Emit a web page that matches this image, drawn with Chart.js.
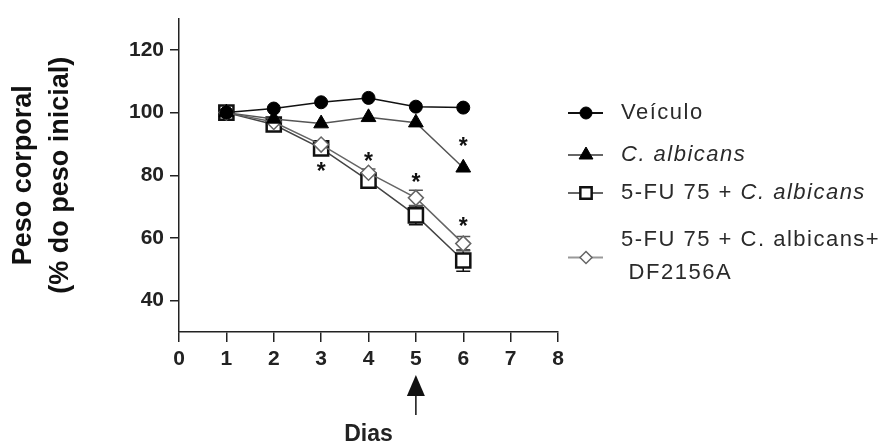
<!DOCTYPE html>
<html>
<head>
<meta charset="utf-8">
<script src="https://cdn.jsdelivr.net/npm/chart.js@4.4.1/dist/chart.umd.min.js"></script>
<style>
  html, body { margin: 0; padding: 0; background: #fff; }
  #wrap { width: 896px; height: 446px; }
</style>
</head>
<body>
<div id="wrap"><canvas id="c" width="896" height="446"></canvas></div>
<script>
// values (mean and SEM, % of initial weight)
var days = [1, 2, 3, 4, 5, 6];
var veiculo = [100, 101.3, 103.3, 104.7, 101.9, 101.6];
var albicans = [100, 98, 96.5, 98.5, 96.8, 82.4];
var fu = [100, 96.2, 88.6, 78.3, 67.2, 52.8];
var fuSem = [0.5, 1, 1, 1.2, 3, 3.4];
var fuDf = [100, 97, 89.8, 80.8, 72.8, 58.2];
var fuDfSem = [0.5, 1, 1, 1.2, 2.4, 2.3];

var yTicks = [40, 60, 80, 100, 120];
var starDays = [3, 4, 5, 6, 6];
var starValues = [83, 86, 79.5, 65.5, 91];
var arrowDay = 5;

// legend text, [text, italic] parts per line
var legendText = [
  [[['Veículo', false]]],
  [[['C. albicans', true]]],
  [[['5-FU 75 + ', false], ['C. albicans', true]]],
  [[['5-FU 75 + C. albicans+', false]], [[' DF2156A', false]]]
];

var FONT = "'Liberation Sans', Arial, sans-serif";

function pts(arr) {
  return days.map(function (d, i) { return { x: d, y: arr[i] }; });
}

function marker(ctx, style, x, y, r, fill, stroke, lw) {
  ctx.save();
  ctx.fillStyle = fill;
  ctx.strokeStyle = stroke;
  ctx.lineWidth = lw;
  ctx.beginPath();
  if (style === 'circle') {
    ctx.arc(x, y, r, 0, Math.PI * 2);
  } else if (style === 'triangle') {
    ctx.moveTo(x, y - r);
    ctx.lineTo(x + r * 0.866, y + r * 0.5);
    ctx.lineTo(x - r * 0.866, y + r * 0.5);
    ctx.closePath();
  } else if (style === 'rect') {
    var s = r * Math.SQRT1_2;
    ctx.rect(x - s, y - s, 2 * s, 2 * s);
  } else {
    ctx.moveTo(x, y - r);
    ctx.lineTo(x + r, y);
    ctx.lineTo(x, y + r);
    ctx.lineTo(x - r, y);
    ctx.closePath();
  }
  ctx.fill();
  ctx.stroke();
  ctx.restore();
}

var errorBars = {
  id: 'errorBars',
  beforeDatasetsDraw(chart) {
    var ctx = chart.ctx, xs = chart.scales.x, ys = chart.scales.y;
    chart.data.datasets.forEach(function (ds) {
      if (!ds.sem) return;
      ctx.save();
      ctx.strokeStyle = ds.errColor;
      ctx.lineWidth = 1.5;
      ds.data.forEach(function (p, i) {
        var e = ds.sem[i];
        var px = xs.getPixelForValue(p.x);
        var top = ys.getPixelForValue(p.y + e);
        var bot = ys.getPixelForValue(p.y - e);
        ctx.beginPath();
        ctx.moveTo(px, top); ctx.lineTo(px, bot);
        ctx.moveTo(px - 7, top); ctx.lineTo(px + 7, top);
        ctx.moveTo(px - 7, bot); ctx.lineTo(px + 7, bot);
        ctx.stroke();
      });
      ctx.restore();
    });
  }
};

var extras = {
  id: 'extras',
  afterDraw(chart) {
    var ctx = chart.ctx, xs = chart.scales.x, ys = chart.scales.y;
    var area = chart.chartArea;

    // significance stars
    ctx.save();
    ctx.fillStyle = '#111';
    ctx.font = 'bold 23px ' + FONT;
    ctx.textAlign = 'center';
    ctx.textBaseline = 'alphabetic';
    starDays.forEach(function (d, i) {
      ctx.fillText('*', xs.getPixelForValue(d), ys.getPixelForValue(starValues[i]) + 13);
    });
    ctx.restore();

    // arrow under day 5
    var ax = xs.getPixelForValue(arrowDay);
    var top = area.bottom + 43;
    ctx.save();
    ctx.fillStyle = '#111';
    ctx.strokeStyle = '#111';
    ctx.lineWidth = 1.5;
    ctx.beginPath();
    ctx.moveTo(ax, top);
    ctx.lineTo(ax + 9, top + 21);
    ctx.lineTo(ax - 9, top + 21);
    ctx.closePath();
    ctx.fill();
    ctx.beginPath();
    ctx.moveTo(ax, top + 21);
    ctx.lineTo(ax, top + 40);
    ctx.stroke();
    ctx.restore();

    // legend
    var rows = [113, 155, 193, 240];
    ctx.save();
    ctx.textBaseline = 'middle';
    ctx.fillStyle = '#2a2a2a';
    ctx.letterSpacing = '1.5px';
    chart.data.datasets.slice().sort(function (a, b) { return a.legendIndex - b.legendIndex; }).forEach(function (ds, i) {
      var lines = legendText[i];
      var my = rows[i] + (lines.length - 1) * 17.5;
      ctx.save();
      ctx.strokeStyle = ds.legendLine;
      ctx.lineWidth = 2;
      ctx.beginPath();
      ctx.moveTo(568, my); ctx.lineTo(603, my);
      ctx.stroke();
      ctx.restore();
      marker(ctx, ds.pointStyle, 586, my, ds.legendRadius, ds.pointBackgroundColor, ds.pointBorderColor, ds.pointBorderWidth);
      lines.forEach(function (parts, li) {
        var tx = 621;
        parts.forEach(function (p) {
          ctx.font = (p[1] ? 'italic ' : '') + '22px ' + FONT;
          ctx.fillText(p[0], tx, rows[i] + li * 33);
          tx += ctx.measureText(p[0]).width;
        });
      });
    });
    ctx.restore();
  }
};

new Chart(document.getElementById('c'), {
  type: 'line',
  data: {
    datasets: [
      {
        label: 'Veículo', data: pts(veiculo), legendIndex: 0, order: 0,
        borderColor: '#111', borderWidth: 1.5, legendLine: '#111',
        pointStyle: 'circle', pointRadius: 6.5, legendRadius: 6,
        pointBackgroundColor: '#000', pointBorderColor: '#000', pointBorderWidth: 1
      },
      {
        label: 'C. albicans', data: pts(albicans), legendIndex: 1, order: 1,
        borderColor: '#555', borderWidth: 1.5, legendLine: '#666',
        pointStyle: 'triangle', pointRadius: 8.5, legendRadius: 8,
        pointBackgroundColor: '#000', pointBorderColor: '#000', pointBorderWidth: 1
      },
      {
        label: '5-FU 75 + C. albicans', data: pts(fu), sem: fuSem, errColor: '#111', legendIndex: 2, order: 3,
        borderColor: '#444', borderWidth: 1.5, legendLine: '#666',
        pointStyle: 'rect', pointRadius: 10, legendRadius: 8,
        pointBackgroundColor: '#fff', pointBorderColor: '#111', pointBorderWidth: 2.5
      },
      {
        label: '5-FU 75 + C. albicans+ DF2156A', data: pts(fuDf), sem: fuDfSem, errColor: '#555', legendIndex: 3, order: 2,
        borderColor: '#666', borderWidth: 1.5, legendLine: '#999',
        pointStyle: 'rectRot', pointRadius: 7.5, legendRadius: 6,
        pointBackgroundColor: '#fff', pointBorderColor: '#666', pointBorderWidth: 1.5
      }
    ]
  },
  options: {
    responsive: false,
    animation: false,
    layout: { padding: { left: 0, top: 13, right: 338, bottom: 0 } },
    plugins: { legend: { display: false }, tooltip: { enabled: false } },
    elements: { line: { tension: 0 } },
    scales: {
      x: {
        type: 'linear', min: 0, max: 8,
        afterFit: function (s) { s.height = 114; },
        border: { color: '#222', width: 1.5 },
        grid: { drawOnChartArea: false, drawTicks: true, tickLength: 10, color: '#222', lineWidth: 1.5 },
        ticks: { stepSize: 1, padding: 5, color: '#222', font: { family: FONT, size: 21, weight: 'bold' } },
        title: {
          display: true, text: 'Dias', color: '#222',
          font: { family: FONT, size: 23, weight: 'bold', lineHeight: 1 },
          padding: { top: 0, bottom: 0 }
        }
      },
      y: {
        min: 30, max: 130,
        afterFit: function (s) { s.width = 179; },
        afterBuildTicks: function (s) { s.ticks = yTicks.map(function (v) { return { value: v }; }); },
        border: { color: '#222', width: 1.5 },
        grid: { drawOnChartArea: false, drawTicks: true, tickLength: 9, color: '#222', lineWidth: 1.5 },
        ticks: { padding: 6, color: '#222', font: { family: FONT, size: 21, weight: 'bold' } },
        title: {
          display: true, text: ['Peso corporal', '(% do peso inicial)'], color: '#111',
          font: { family: FONT, size: 27, weight: 'bold', lineHeight: 1.37 },
          padding: { top: 5, bottom: 0 }
        }
      }
    }
  },
  plugins: [errorBars, extras]
});
</script>
</body>
</html>
